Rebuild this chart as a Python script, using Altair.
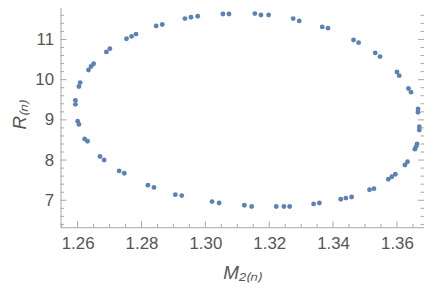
import altair as alt
import pandas as pd

# ---- data ----
M2 = [1.2593, 1.2593, 1.2600, 1.2604, 1.2604, 1.2608, 1.2634, 1.2642, 1.2650, 1.2690,
      1.2701, 1.2753, 1.2769, 1.2783, 1.2846, 1.2865, 1.2936, 1.2955, 1.2976, 1.3055,
      1.3074, 1.3155, 1.3174, 1.3198, 1.3275, 1.3294, 1.3366, 1.3384, 1.3464, 1.3480,
      1.3532, 1.3547, 1.3600, 1.3607, 1.3636, 1.3644, 1.3666, 1.3666, 1.3670, 1.3670,
      1.3663, 1.3660, 1.3656, 1.3633, 1.3625, 1.3595, 1.3584, 1.3573, 1.3528, 1.3514,
      1.3458, 1.3440, 1.3424, 1.3357, 1.3339, 1.3264, 1.3246, 1.3222, 1.3145, 1.3122,
      1.3043, 1.3021, 1.2926, 1.2906, 1.2839, 1.2820, 1.2746, 1.2730, 1.2683, 1.2670,
      1.2631, 1.2622]
R = [9.485, 9.386, 8.968, 8.887, 9.829, 9.927, 10.240, 10.328, 10.395, 10.690,
     10.771, 11.017, 11.076, 11.133, 11.337, 11.371, 11.519, 11.551, 11.576, 11.632,
     11.632, 11.642, 11.608, 11.608, 11.519, 11.460, 11.312, 11.280, 10.985, 10.919,
     10.665, 10.574, 10.191, 10.100, 9.780, 9.689, 9.271, 9.189, 8.828, 8.747,
     8.402, 8.336, 8.272, 7.959, 7.878, 7.647, 7.585, 7.524, 7.290, 7.263,
     7.081, 7.054, 7.025, 6.933, 6.909, 6.845, 6.845, 6.845, 6.845, 6.877,
     6.933, 6.968, 7.116, 7.140, 7.320, 7.376, 7.672, 7.731, 8.001, 8.090,
     8.469, 8.525]

X_MAJOR = [1.26, 1.28, 1.30, 1.32, 1.34, 1.36]
X_MINOR = [1.255, 1.265, 1.27, 1.275, 1.285, 1.29, 1.295, 1.305, 1.31, 1.315,
           1.325, 1.33, 1.335, 1.345, 1.35, 1.355, 1.365]
Y_MAJOR = [7, 8, 9, 10, 11]
Y_MINOR = [6.4, 6.6, 6.8, 7.2, 7.4, 7.6, 7.8, 8.2, 8.4, 8.6, 8.8, 9.2, 9.4, 9.6,
           9.8, 10.2, 10.4, 10.6, 10.8, 11.2, 11.4, 11.6, 11.8]

X_DOMAIN = [1.25463, 1.36847]
Y_DOMAIN = [6.33, 11.946]

W, H = 367, 228
FRAME = "#a6a6a6"
TEXT = "#555555"
PT = "#5E81B5"
FONT = "Liberation Sans"

df = pd.DataFrame({"M2": M2, "R": R})
xs = alt.Scale(domain=X_DOMAIN, nice=False, zero=False)
ys = alt.Scale(domain=Y_DOMAIN, nice=False, zero=False)

xaxis = alt.Axis(
    values=X_MAJOR, format=".2f", title="M₂₍ₙ₎", ticks=False, domain=False,
    grid=False, labelFontSize=17, labelColor=TEXT, labelFont=FONT,
    labelPadding=8, titleFontSize=19, titleFontWeight="normal",
    titleFontStyle="italic", titleColor=TEXT, titleFont=FONT, titlePadding=13)
yaxis = alt.Axis(
    values=Y_MAJOR, format="d", title="R₍ₙ₎", ticks=False, domain=False,
    grid=False, labelFontSize=17, labelColor=TEXT, labelFont=FONT,
    labelPadding=7, titleFontSize=19, titleFontWeight="normal",
    titleFontStyle="italic", titleColor=TEXT, titleFont=FONT, titlePadding=5)

points = alt.Chart(df).mark_circle(size=24, color=PT, opacity=1).encode(
    x=alt.X("M2:Q", scale=xs, axis=xaxis),
    y=alt.Y("R:Q", scale=ys, axis=yaxis),
)


def xticks(vals, length):
    d = pd.DataFrame({"M2": vals})
    bottom = alt.Chart(d).mark_rule(color=FRAME, strokeWidth=1).encode(
        x=alt.X("M2:Q", scale=xs, axis=xaxis), y=alt.value(H), y2=alt.value(H - length))
    top = alt.Chart(d).mark_rule(color=FRAME, strokeWidth=1).encode(
        x=alt.X("M2:Q", scale=xs, axis=xaxis), y=alt.value(0), y2=alt.value(length))
    return [bottom, top]


def yticks(vals, length):
    d = pd.DataFrame({"R": vals})
    left = alt.Chart(d).mark_rule(color=FRAME, strokeWidth=1).encode(
        y=alt.Y("R:Q", scale=ys, axis=yaxis), x=alt.value(0), x2=alt.value(length))
    right = alt.Chart(d).mark_rule(color=FRAME, strokeWidth=1).encode(
        y=alt.Y("R:Q", scale=ys, axis=yaxis), x=alt.value(W), x2=alt.value(W - length))
    return [left, right]


layers = [points] + xticks(X_MAJOR, 6) + xticks(X_MINOR, 3.5) + yticks(Y_MAJOR, 6) + yticks(Y_MINOR, 3.5)

chart = alt.layer(*layers).properties(
    width=W, height=H,
    autosize=alt.AutoSizeParams(type="none"),
    padding={"left": 53, "top": -8, "right": 0, "bottom": 58},
    background="white",
).configure_view(stroke=FRAME, strokeWidth=1)

chart.save("out.html", embed_options={"renderer": "svg", "actions": False})
